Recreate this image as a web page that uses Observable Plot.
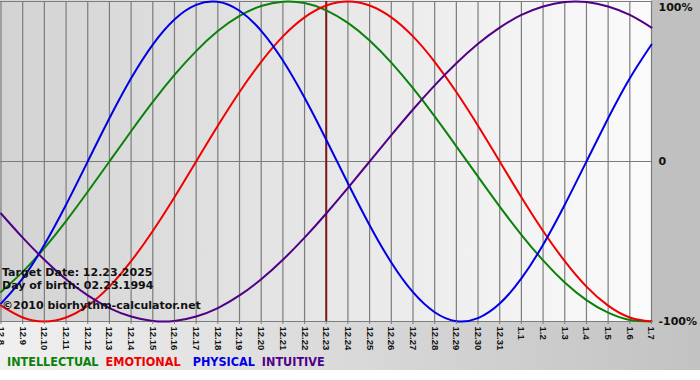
<!DOCTYPE html>
<html>
<head>
<meta charset="utf-8">
<script src="https://cdn.jsdelivr.net/npm/d3@7"></script>
<script src="https://cdn.jsdelivr.net/npm/@observablehq/plot@0.6"></script>
<style>
  html, body { margin: 0; padding: 0; background: #ffffff; }
  #wrap {
    position: relative; width: 700px; height: 380px; overflow: hidden;
    background:
      linear-gradient(to right, #d3d3d3, #fbfbfb) 0 0 / 651px 321px no-repeat,
      linear-gradient(#c0c0c0, #c0c0c0) 651px 0 / 49px 321px no-repeat,
      linear-gradient(to right, #f0f0f0, #c2c2c2) 0 321px / 700px 49px no-repeat,
      #ffffff;
  }
  #chart { position: absolute; left: 0; top: 0; }
  .note { position: absolute; left: 2px; font: bold 11px "DejaVu Sans", sans-serif; line-height: 13px; color: #111; white-space: nowrap; }
  #legend { position: absolute; left: 7px; top: 354px; font-family: "DejaVu Sans Condensed", "DejaVu Sans", sans-serif; font-stretch: condensed; font-weight: bold; font-size: 12.5px; line-height: 15px; white-space: nowrap; }
  #legend span { margin-right: 7px; }
  #legend span:nth-child(2) { margin-right: 12px; }
</style>
</head>
<body>
<div id="wrap">
  <div id="chart"></div>
  <div class="note" id="n1" style="top:266px"></div>
  <div class="note" id="n2" style="top:279px"></div>
  <div class="note" id="n3" style="top:299px"></div>
  <div id="legend"></div>
</div>
<script>
const dates = ["12.8","12.9","12.10","12.11","12.12","12.13","12.14","12.15","12.16","12.17","12.18","12.19","12.20","12.21","12.22","12.23","12.24","12.25","12.26","12.27","12.28","12.29","12.30","12.31","1.1","1.2","1.3","1.4","1.5","1.6","1.7"];
const intellectual = [-0.815,-0.690,-0.541,-0.372,-0.189,0,0.189,0.372,0.541,0.690,0.815,0.910,0.972,0.999,0.990,0.945,0.866,0.756,0.618,0.458,0.282,0.095,-0.095,-0.282,-0.458,-0.618,-0.756,-0.866,-0.945,-0.990,-0.999];
const emotional = [-0.901,-0.975,-1,-0.975,-0.901,-0.782,-0.623,-0.434,-0.223,0,0.223,0.434,0.623,0.782,0.901,0.975,1,0.975,0.901,0.782,0.623,0.434,0.223,0,-0.223,-0.434,-0.623,-0.782,-0.901,-0.975,-1];
const physical = [-0.888,-0.731,-0.520,-0.270,0,0.270,0.520,0.731,0.888,0.979,0.998,0.942,0.817,0.631,0.398,0.136,-0.136,-0.398,-0.631,-0.817,-0.942,-0.998,-0.979,-0.888,-0.731,-0.520,-0.270,0,0.270,0.520,0.731];
const intuitive = [-0.325,-0.476,-0.614,-0.736,-0.837,-0.916,-0.969,-0.997,-0.997,-0.969,-0.916,-0.837,-0.736,-0.614,-0.476,-0.325,-0.165,0,0.165,0.325,0.476,0.614,0.736,0.837,0.916,0.969,0.997,0.997,0.969,0.916,0.837];
const seriesNames = ["INTELLECTUAL","EMOTIONAL","PHYSICAL","INTUITIVE"];
const targetDate = "12.23";
const yTicks = [1, 0, -1];
const yTickLabels = ["100%", "0", "-100%"];
const notes = ["Target Date: 12.23.2025", "Day of birth: 02.23.1994", "\u00a92010 biorhythm-calculator.net"];

const seriesColors = ["#0a820a", "#f00000", "#0000e6", "#500088"];
const seriesValues = [intellectual, emotional, physical, intuitive];
const dayIndex = dates.map((d, i) => i);
const rows = seriesNames.flatMap((name, s) => dates.map((d, i) => ({day: i, value: seriesValues[s][i], series: name})));
const labelOf = new Map(yTicks.map((t, i) => [t, yTickLabels[i]]));

const gridColor = "#7c7c7c";
const axisFont = {fontWeight: "bold", fontSize: 11, fontFamily: "DejaVu Sans, sans-serif", fill: "#111"};

const chart = Plot.plot({
  width: 700,
  height: 352,
  marginLeft: 0,
  marginRight: 49,
  marginTop: 1,
  marginBottom: 31,
  style: {background: "transparent", overflow: "visible"},
  x: {type: "linear", domain: [0, dates.length - 1], range: [0.5, 651]},
  y: {domain: [-1, 1], range: [321, 1]},
  color: {domain: seriesNames, range: seriesColors},
  marks: [
    Plot.ruleX(dayIndex, {stroke: gridColor, strokeWidth: 1.2}),
    Plot.ruleY(yTicks, {stroke: gridColor, strokeWidth: 1.2}),
    Plot.ruleX([dates.indexOf(targetDate)], {stroke: "#7d1818", strokeWidth: 2}),
    Plot.line(rows, {x: "day", y: "value", z: "series", stroke: "series", strokeWidth: 2, curve: "natural"}),
    Plot.axisX({ticks: dayIndex, tickFormat: i => dates[i], tickRotate: 90, tickSize: 3, tickPadding: 2, stroke: gridColor, label: null,
      fontWeight: "bold", fontSize: 9.5, fontFamily: "Liberation Sans, Arial, sans-serif", fill: "#111"}),
    Plot.axisY({anchor: "right", ticks: yTicks.filter(t => t !== 1), tickFormat: t => labelOf.get(t), tickSize: 0, tickPadding: 7, label: null, ...axisFont}),
    Plot.axisY({anchor: "right", ticks: [1], tickFormat: t => labelOf.get(t), tickSize: 0, tickPadding: 7, dy: 6, label: null, ...axisFont})
  ]
});
document.getElementById("chart").appendChild(chart);

["n1", "n2", "n3"].forEach((id, i) => { document.getElementById(id).textContent = notes[i]; });

const legend = document.getElementById("legend");
seriesNames.forEach((name, i) => {
  const s = document.createElement("span");
  s.textContent = name;
  s.style.color = seriesColors[i];
  legend.appendChild(s);
});
</script>
</body>
</html>
